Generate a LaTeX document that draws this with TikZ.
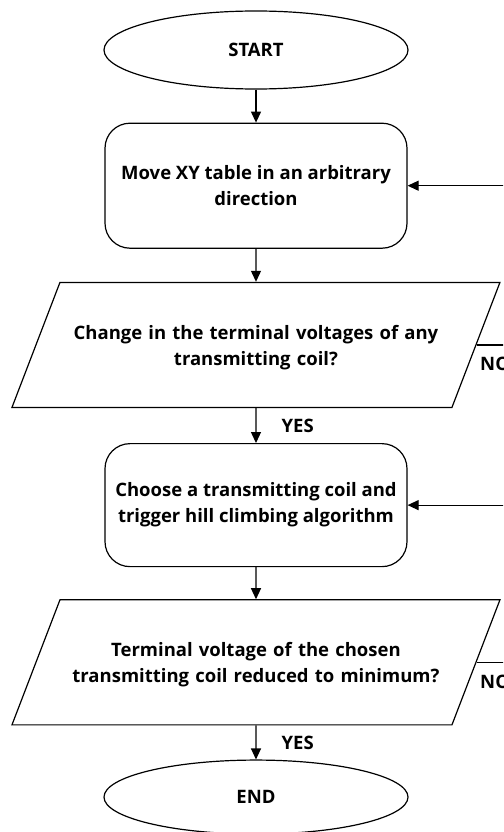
\documentclass[tikz,border=0pt]{standalone}
\usepackage{fontspec}
\setmainfont{Open Sans}
\usetikzlibrary{shapes, arrows.meta, positioning}
\tikzstyle{startstop} = [ellipse, minimum width=304pt, minimum height=78pt, text centered, draw=black, line width=1.2pt]
\tikzstyle{statement} = [rectangle, rounded corners=25pt, minimum width=302pt, minimum height=125pt, align=center, draw=black, line width=1.2pt]
\tikzstyle{decision} = [trapezium, trapezium left angle=69, trapezium right angle=111, text width=380pt, text height=20pt, text depth=31pt, inner xsep=6pt, inner ysep=37pt, align=center, draw=black, line width=1.2pt]
\tikzstyle{edge} = [line width=1.2pt, ->, >={Triangle[length=11pt, width=10pt]}]
\tikzstyle{answer} = [inner sep=0pt]

\begin{document}
\begin{tikzpicture}[x=1pt, y=-1pt, node distance=33pt, font=\bfseries\fontsize{18.5}{26}\selectfont]

\clip (0,0) rectangle (503,832);

\node (start) [startstop] at (256,50) {START};
\node (move) [statement, below=of start] {Move XY table in an arbitrary\\direction};
\node (change) [decision, below=of move] {Change in the terminal voltages of any\\transmitting coil?};
\node (choose) [statement, below=35pt of change, minimum height=123pt] {Choose a transmitting coil and\\trigger hill climbing algorithm};
\node (reduced) [decision, below=32pt of choose] {Terminal voltage of the chosen\\transmitting coil reduced to minimum?};
\node (end) [startstop, below=34pt of reduced, minimum height=74pt] {END};

\draw [edge] (start) -- (move);
\draw [edge] (move) -- (change);
\draw [edge] (change) -- node[answer, anchor=west, xshift=25pt]{YES} (choose);
\draw [edge] (choose) -- (reduced);
\draw [edge] (reduced) -- node[answer, anchor=west, xshift=25pt]{YES} (end);
\draw [edge] (change.east) -- node[answer, pos=0, anchor=north west, xshift=3pt, yshift=-12pt]{NO} ++(60,0) |- (move.east);
\draw [edge] (reduced.east) -- node[answer, pos=0, anchor=north west, xshift=3pt, yshift=-12pt]{NO} ++(60,0) |- (choose.east);

\end{tikzpicture}
\end{document}
